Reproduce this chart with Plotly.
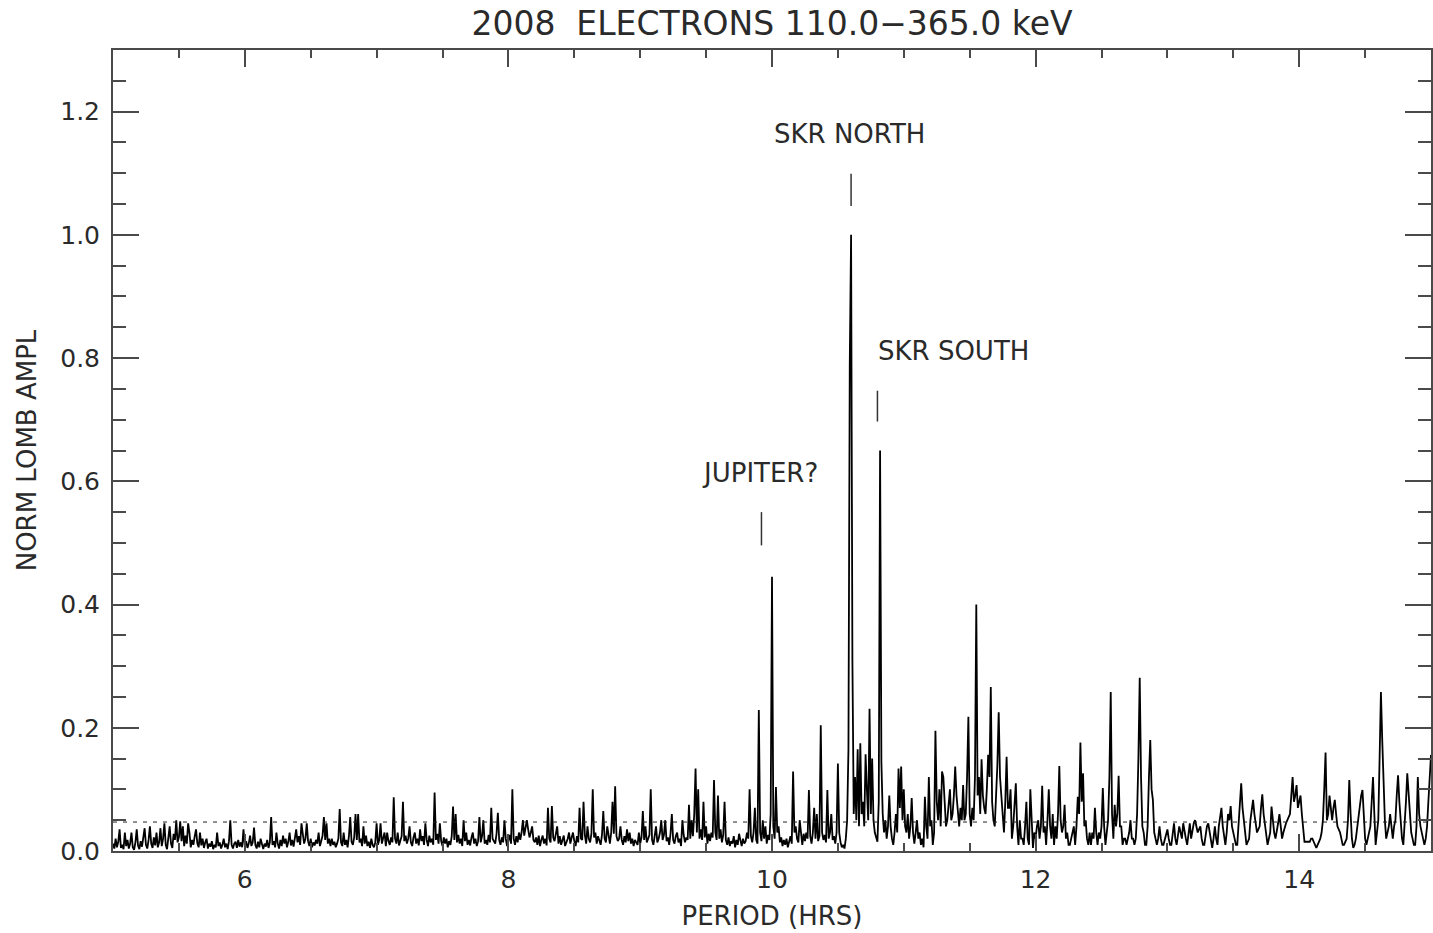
import numpy as np
import plotly.graph_objects as go

# ---------------- data ----------------
PERIOD_START = 5.00      # hours
PERIOD_STEP = 0.01       # hours between samples

# Normalised Lomb amplitude, in thousandths; one line per 0.1 h (10 samples)
AMP_MILLI = [
    12, 4, 20, 6, 15, 35, 5, 10, 3, 30,          # 5.0
    8, 18, 4, 12, 30, 6, 2, 14, 35, 9,           # 5.1
    3, 16, 7, 20, 37, 10, 4, 18, 40, 12,         # 5.2
    5, 22, 9, 30, 6, 14, 37, 8, 20, 45,          # 5.3
    10, 3, 24, 40, 12, 5, 28, 18, 50, 14,        # 5.4
    22, 48, 16, 40, 8, 25, 12, 45, 30, 6,        # 5.5
    18, 10, 24, 35, 12, 6, 30, 9, 20, 5,         # 5.6
    14, 20, 4, 12, 7, 16, 3, 10, 6, 30,          # 5.7
    8, 14, 4, 10, 20, 6, 12, 3, 16, 50,          # 5.8
    10, 4, 12, 15, 5, 18, 7, 14, 6, 35,          # 5.9
    9, 16, 5, 12, 25, 8, 14, 38, 10, 4,          # 6.0
    15, 6, 20, 9, 3, 12, 7, 18, 5, 14,           # 6.1
    55, 10, 16, 6, 30, 12, 4, 18, 8, 25,         # 6.2
    12, 20, 6, 15, 30, 9, 18, 7, 22, 35,         # 6.3
    14, 24, 10, 45, 28, 12, 20, 45, 16, 8,       # 6.4
    20, 6, 14, 9, 18, 12, 30, 8, 16, 25,         # 6.5
    55, 18, 45, 12, 20, 8, 20, 10, 15, 6,        # 6.6
    12, 20, 68, 14, 8, 30, 10, 18, 6, 24,        # 6.7
    55, 15, 10, 22, 60, 18, 60, 14, 20, 8,       # 6.8
    40, 12, 25, 8, 15, 5, 20, 10, 6, 14,         # 6.9
    45, 10, 18, 45, 12, 20, 30, 8, 30, 16,       # 7.0
    10, 22, 14, 87, 20, 12, 30, 9, 18, 24,       # 7.1
    80, 16, 25, 12, 20, 40, 14, 8, 22, 30,       # 7.2
    12, 20, 9, 35, 16, 24, 10, 45, 18, 8,        # 7.3
    25, 14, 20, 10, 95, 18, 28, 12, 45, 16,      # 7.4
    8, 22, 12, 20, 6, 16, 10, 24, 72, 18,        # 7.5
    60, 14, 26, 12, 20, 8, 50, 16, 30, 10,       # 7.6
    18, 9, 22, 30, 12, 20, 8, 16, 55, 14,        # 7.7
    24, 50, 12, 18, 10, 26, 14, 70, 20, 16,      # 7.8
    12, 28, 62, 18, 10, 22, 14, 50, 20, 8,       # 7.9
    16, 26, 12, 100, 20, 10, 24, 14, 30, 18,     # 8.0
    30, 50, 25, 40, 50, 35, 22, 30, 40, 18,      # 8.1
    14, 22, 10, 25, 8, 18, 25, 12, 20, 9,        # 8.2
    70, 20, 14, 73, 22, 16, 28, 40, 12, 24,      # 8.3
    10, 18, 25, 8, 14, 20, 30, 12, 22, 30,       # 8.4
    16, 8, 24, 14, 70, 20, 18, 80, 26, 12,       # 8.5
    40, 20, 14, 28, 100, 22, 30, 12, 24, 18,     # 8.6
    10, 26, 65, 20, 14, 40, 22, 12, 30, 80,      # 8.7
    28, 105, 24, 16, 20, 40, 18, 10, 24, 14,     # 8.8
    35, 16, 30, 12, 20, 8, 18, 14, 10, 30,       # 8.9
    12, 22, 65, 18, 40, 14, 20, 26, 100, 18,     # 9.0
    10, 24, 40, 14, 20, 30, 50, 18, 26, 50,      # 9.1
    16, 22, 10, 28, 60, 18, 12, 24, 30, 14,      # 9.2
    20, 8, 50, 26, 14, 22, 18, 75, 20, 50,       # 9.3
    24, 60, 134, 30, 100, 20, 35, 18, 80, 22,    # 9.4
    40, 12, 28, 16, 30, 22, 115, 30, 18, 90,     # 9.5
    20, 35, 14, 26, 80, 18, 10, 22, 8, 16,       # 9.6
    12, 24, 6, 18, 10, 28, 14, 8, 20, 12,        # 9.7
    16, 30, 20, 100, 24, 14, 30, 70, 18, 12,     # 9.8
    229, 30, 16, 50, 20, 40, 12, 26, 18, 60,     # 9.9
    445, 40, 20, 104, 30, 40, 14, 22, 8, 18,     # 10.0
    10, 20, 6, 14, 24, 12, 129, 30, 40, 20,      # 10.1
    14, 50, 22, 10, 28, 16, 30, 20, 99, 24,      # 10.2
    12, 30, 70, 20, 60, 16, 24, 204, 30, 18,     # 10.3
    26, 14, 99, 20, 30, 60, 18, 24, 12, 30,      # 10.4
    142, 30, 14, 6, 10, 4, 20, 50, 164, 790,     # 10.5
    1000, 310, 60, 120, 50, 165, 40, 175, 60, 80,  # 10.6
    40, 157, 100, 50, 231, 60, 150, 50, 30, 20,  # 10.7
    15, 80, 650, 144, 60, 30, 50, 20, 40, 90,    # 10.8
    40, 20, 10, 30, 60, 30, 134, 70, 137, 50,    # 10.9
    100, 40, 30, 60, 20, 40, 86, 30, 12, 30,     # 11.0
    50, 20, 30, 10, 20, 6, 88, 40, 20, 120,      # 11.1
    40, 50, 10, 30, 195, 80, 50, 100, 40, 129,   # 11.2
    120, 80, 40, 50, 70, 100, 50, 60, 90, 137,   # 11.3
    90, 60, 40, 70, 50, 107, 50, 60, 120, 218,   # 11.4
    60, 40, 70, 50, 120, 400, 90, 120, 60, 149,  # 11.5
    90, 70, 60, 100, 156, 120, 266, 80, 50, 40,  # 11.6
    90, 140, 225, 120, 90, 50, 30, 80, 153, 70,  # 11.7
    70, 100, 20, 40, 80, 110, 40, 10, 50, 20,    # 11.8
    20, 10, 40, 80, 20, 10, 100, 40, 5, 30,      # 11.9
    20, 40, 50, 20, 40, 106, 30, 40, 10, 50,     # 12.0
    100, 40, 20, 60, 10, 40, 20, 60, 138, 50,    # 12.1
    30, 40, 75, 20, 30, 10, 10, 20, 30, 40,      # 12.2
    10, 40, 88, 60, 176, 80, 126, 40, 50, 20,    # 12.3
    10, 30, 10, 30, 20, 70, 30, 10, 30, 20,      # 12.4
    40, 102, 40, 10, 30, 50, 120, 258, 60, 20,   # 12.5
    75, 40, 60, 122, 40, 40, 10, 20, 20, 10,     # 12.6
    20, 30, 50, 20, 20, 10, 20, 60, 150, 281,    # 12.7
    120, 40, 30, 10, 10, 40, 120, 180, 100, 83,  # 12.8
    30, 20, 10, 20, 40, 20, 10, 10, 20, 30,      # 12.9
    35, 20, 10, 10, 30, 45, 20, 10, 25, 40,      # 13.0
    30, 20, 45, 30, 20, 10, 30, 45, 20, 35,      # 13.1
    45, 50, 40, 30, 35, 40, 20, 10, 10, 25,      # 13.2
    40, 45, 30, 15, 5, 20, 40, 20, 10, 40,       # 13.3
    60, 70, 40, 20, 10, 30, 60, 50, 73, 40,      # 13.4
    30, 20, 10, 10, 40, 80, 110, 70, 50, 20,     # 13.5
    10, 15, 20, 50, 70, 83, 60, 40, 30, 35,      # 13.6
    40, 70, 92, 60, 40, 20, 10, 20, 30, 72,      # 13.7
    50, 30, 20, 30, 45, 60, 40, 20, 30, 40,      # 13.8
    45, 50, 55, 60, 90, 120, 80, 90, 107, 70,    # 13.9
    80, 90, 60, 30, 15, 15, 15, 15, 15, 20,      # 14.0
    20, 15, 10, 5, 10, 15, 20, 30, 50, 100,      # 14.1
    160, 50, 60, 90, 70, 50, 70, 83, 60, 40,     # 14.2
    35, 30, 20, 10, 10, 15, 20, 50, 115, 60,     # 14.3
    20, 5, 10, 20, 40, 60, 70, 90, 99, 50,       # 14.4
    20, 10, 20, 30, 40, 80, 120, 60, 10, 30,     # 14.5
    50, 150, 258, 180, 100, 50, 20, 30, 40, 60,  # 14.6
    40, 20, 40, 50, 90, 123, 80, 50, 20, 10,     # 14.7
    40, 80, 126, 90, 50, 30, 20, 10, 10, 40,     # 14.8
    120, 60, 40, 30, 20, 10, 20, 40, 80, 130,    # 14.9
    156,                                         # 15.0
]

SIGNIF_LEVEL = 0.047     # dotted significance level

X_TICKS = [6, 8, 10, 12, 14]
Y_TICKS = [0.0, 0.2, 0.4, 0.6, 0.8, 1.0, 1.2]

MARK_LABELS = ["SKR NORTH", "SKR SOUTH", "JUPITER?"]
MARK_PERIODS = [10.60, 10.80, 9.92]
MARK_LINE_BOTTOM = [1.047, 0.697, 0.496]
MARK_LINE_TOP = [1.099, 0.747, 0.550]
MARK_TEXT_X = [10.59, 10.79, 9.91]
MARK_TEXT_Y = [1.164, 0.812, 0.613]
MARK_TEXT_ANCHOR = ["center", "left", "center"]

assert len(AMP_MILLI) == 1001, len(AMP_MILLI)

period = PERIOD_START + PERIOD_STEP * np.arange(len(AMP_MILLI))
amp = np.array(AMP_MILLI, dtype=float) / 1000.0

# ---------------- figure ----------------
FONT = "DejaVu Sans"
INK = "#2a2a2a"
AXIS = "#4a4a4a"

fig = go.Figure()
fig.add_trace(go.Scatter(x=period, y=amp, mode="lines",
                         line=dict(color="#000000", width=1.8),
                         hoverinfo="x+y", showlegend=False))
fig.add_trace(go.Scatter(x=[5, 15], y=[SIGNIF_LEVEL, SIGNIF_LEVEL], mode="lines",
                         line=dict(color="#222222", width=1, dash="4px,6px"),
                         hoverinfo="skip", showlegend=False))

for lab, px, yb, yt, tx, ty, anc in zip(MARK_LABELS, MARK_PERIODS, MARK_LINE_BOTTOM,
                                         MARK_LINE_TOP, MARK_TEXT_X, MARK_TEXT_Y,
                                         MARK_TEXT_ANCHOR):
    fig.add_shape(type="line", xref="x", yref="y", x0=px, x1=px, y0=yb, y1=yt,
                  line=dict(color="#333333", width=1.5))
    fig.add_annotation(x=tx, y=ty, xref="x", yref="y", text=lab, showarrow=False,
                       xanchor=anc, yanchor="middle",
                       font=dict(family=FONT, size=26, color=INK))

fig.update_layout(
    width=1433, height=933,
    margin=dict(l=113, r=2, t=50, b=82, autoexpand=False),
    paper_bgcolor="white", plot_bgcolor="white",
    font=dict(family=FONT, size=26, color=INK),
    title=dict(text="2008&nbsp;&nbsp;ELECTRONS 110.0\u2212365.0 keV",
               x=(113 + 1431) / 2 / 1433, xanchor="center",
               y=1 - 23 / 933, yanchor="middle", yref="container",
               font=dict(family=FONT, size=33, color=INK)),
    showlegend=False,
)

fig.update_xaxes(
    range=[5, 15], tickmode="array", tickvals=X_TICKS, ticktext=[str(v) for v in X_TICKS],
    ticks="inside", ticklen=17, tickwidth=1.5, tickcolor=AXIS,
    minor=dict(dtick=0.5, tick0=5, ticks="inside", ticklen=8, tickwidth=1.5, tickcolor=AXIS,
               showgrid=False),
    showline=True, linecolor=AXIS, linewidth=2, mirror="ticks",
    showgrid=False, zeroline=False,
    title=dict(text="PERIOD (HRS)", standoff=14, font=dict(family=FONT, size=26, color=INK)),
    tickfont=dict(family=FONT, size=25, color=INK),
    ticklabelstandoff=5,
)
fig.update_yaxes(
    range=[0, 1.3], tickmode="array", tickvals=Y_TICKS, ticktext=[f"{v:.1f}" for v in Y_TICKS],
    ticks="inside", ticklen=26, tickwidth=1.5, tickcolor=AXIS,
    minor=dict(dtick=0.05, tick0=0, ticks="inside", ticklen=13, tickwidth=1.5, tickcolor=AXIS,
               showgrid=False),
    showline=True, linecolor=AXIS, linewidth=2, mirror="ticks",
    showgrid=False, zeroline=False,
    title=dict(text="NORM LOMB AMPL", standoff=16, font=dict(family=FONT, size=26, color=INK)),
    tickfont=dict(family=FONT, size=25, color=INK),
    ticklabelstandoff=6,
)

fig.write_html("out.html")
